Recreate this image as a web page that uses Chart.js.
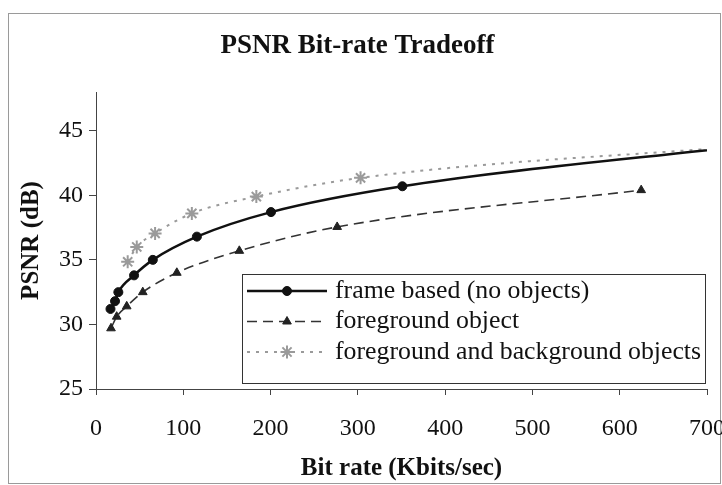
<!DOCTYPE html>
<html>
<head>
<meta charset="utf-8">
<script src="https://cdn.jsdelivr.net/npm/chart.js@4/dist/chart.umd.min.js"></script>
<style>
  html, body { margin: 0; padding: 0; background: #ffffff; }
  #wrap { width: 722px; height: 485px; }
</style>
</head>
<body>
<div id="wrap"><canvas id="c" width="722" height="485"></canvas></div>
<script>
// PSNR versus bit rate for three coding modes
const seriesNames = [
  'frame based (no objects)',
  'foreground object',
  'foreground and background objects'
];

// frame based (no objects)
const frameRate = [16.6, 21.8, 25.6, 43.6, 65.1, 115.6, 200.5, 351, 760];
const framePsnr = [31.2, 31.8, 32.5, 33.8, 35.0, 36.8, 38.7, 40.7, 43.95];

// foreground object
const fgRate = [17.2, 23.7, 35.2, 53.6, 92.6, 164.2, 276.3, 624.6];
const fgPsnr = [29.7, 30.6, 31.4, 32.5, 34.0, 35.7, 37.55, 40.4];

// foreground and background objects
const fgbgRate = [36.3, 46.7, 67.7, 109.8, 183.7, 303.1, 760];
const fgbgPsnr = [34.85, 36.0, 37.05, 38.6, 39.9, 41.35, 43.9];

const xTicks = [0, 100, 200, 300, 400, 500, 600, 700];
const yTicks = [25, 30, 35, 40, 45];

const toPoints = (xs, ys) => xs.map((x, i) => ({ x: x, y: ys[i] }));

const serif = "'Liberation Serif', 'Times New Roman', serif";

// thin frame around the whole figure
const framePlugin = {
  id: 'outerFrame',
  beforeDraw(chart) {
    const ctx = chart.ctx;
    ctx.save();
    ctx.fillStyle = '#ffffff';
    ctx.fillRect(0, 0, chart.width, chart.height);
    ctx.strokeStyle = '#9a9a9a';
    ctx.lineWidth = 1;
    ctx.strokeRect(8.5, 13.5, 712, 470);
    ctx.restore();
  }
};

// boxed legend sitting inside the plot area
const boxLegend = {
  id: 'boxLegend',
  afterDraw(chart) {
    const ctx = chart.ctx;
    const box = { l: 242, t: 274, r: 705, b: 383 };
    const rows = [291, 321.5, 352];
    ctx.save();
    ctx.fillStyle = '#ffffff';
    ctx.fillRect(box.l, box.t, box.r - box.l, box.b - box.t);
    ctx.strokeStyle = '#333333';
    ctx.lineWidth = 1;
    ctx.setLineDash([]);
    ctx.strokeRect(box.l + 0.5, box.t + 0.5, box.r - box.l, box.b - box.t);
    chart.data.datasets.forEach((ds, i) => {
      const y = rows[i];
      ctx.save();
      ctx.strokeStyle = ds.borderColor;
      ctx.lineWidth = ds.borderWidth;
      ctx.setLineDash(ds.borderDash || []);
      ctx.beginPath();
      ctx.moveTo(247, y);
      ctx.lineTo(327, y);
      ctx.stroke();
      ctx.setLineDash([]);
      ctx.fillStyle = ds.pointBackgroundColor;
      ctx.strokeStyle = ds.pointBorderColor;
      ctx.lineWidth = ds.pointBorderWidth;
      Chart.helpers.drawPoint(ctx, {
        pointStyle: ds.pointStyle,
        radius: ds.pointRadius,
        borderWidth: ds.pointBorderWidth,
        rotation: 0
      }, 287, y);
      ctx.restore();
      ctx.fillStyle = '#111111';
      ctx.font = '25.8px ' + serif;
      ctx.textBaseline = 'middle';
      ctx.textAlign = 'left';
      ctx.fillText(ds.label, 335, y);
    });
    ctx.restore();
  }
};

new Chart(document.getElementById('c'), {
  type: 'line',
  data: {
    datasets: [
      {
        label: seriesNames[0],
        data: toPoints(frameRate, framePsnr),
        borderColor: '#111111',
        borderWidth: 2.5,
        pointStyle: 'circle',
        pointRadius: 4.5,
        pointBackgroundColor: '#111111',
        pointBorderColor: '#111111',
        pointBorderWidth: 1,
        cubicInterpolationMode: 'monotone'
      },
      {
        label: seriesNames[1],
        data: toPoints(fgRate, fgPsnr),
        borderColor: '#333333',
        borderWidth: 1.6,
        borderDash: [10, 6],
        pointStyle: 'triangle',
        pointRadius: 5,
        pointBackgroundColor: '#222222',
        pointBorderColor: '#222222',
        pointBorderWidth: 1,
        cubicInterpolationMode: 'monotone'
      },
      {
        label: seriesNames[2],
        data: toPoints(fgbgRate, fgbgPsnr),
        borderColor: '#9a9a9a',
        borderWidth: 2,
        borderDash: [3, 6],
        pointStyle: 'star',
        pointRadius: 6.5,
        pointBackgroundColor: '#9a9a9a',
        pointBorderColor: '#9a9a9a',
        pointBorderWidth: 2,
        cubicInterpolationMode: 'monotone'
      }
    ]
  },
  options: {
    responsive: false,
    animation: false,
    devicePixelRatio: 1,
    layout: { padding: { left: 8, right: 15, top: 0, bottom: 0 } },
    plugins: {
      legend: { display: false },
      tooltip: { enabled: false },
      title: {
        display: true,
        text: 'PSNR Bit-rate Tradeoff',
        color: '#111111',
        font: { family: serif, size: 27, weight: 'bold' },
        padding: { top: 30, bottom: 29.6 }
      }
    },
    scales: {
      x: {
        type: 'linear',
        min: xTicks[0],
        max: xTicks[xTicks.length - 1],
        afterFit(scale) {
          scale.height = 96;
          scale.paddingLeft = 0;
          scale.paddingRight = 0;
        },
        afterBuildTicks(scale) { scale.ticks = xTicks.map(v => ({ value: v })); },
        border: { display: true, color: '#444444', width: 1 },
        grid: { display: true, drawOnChartArea: false, drawTicks: true, tickLength: 6, color: '#444444' },
        ticks: {
          color: '#111111',
          font: { family: serif, size: 24 },
          padding: 19,
          maxRotation: 0
        },
        title: {
          display: true,
          text: 'Bit rate (Kbits/sec)',
          color: '#111111',
          font: { family: serif, size: 25, weight: 'bold' },
          padding: { top: 0, bottom: 1 }
        }
      },
      y: {
        type: 'linear',
        min: 25,
        max: 48,
        afterFit(scale) {
          scale.width = 88;
          scale.paddingTop = 0;
          scale.paddingBottom = 0;
        },
        afterBuildTicks(scale) { scale.ticks = yTicks.map(v => ({ value: v })); },
        border: { display: true, color: '#444444', width: 1 },
        grid: { display: true, drawOnChartArea: false, drawTicks: true, tickLength: 7, color: '#444444' },
        ticks: {
          color: '#111111',
          font: { family: serif, size: 24 },
          padding: 6
        },
        title: {
          display: true,
          text: 'PSNR (dB)',
          color: '#111111',
          font: { family: serif, size: 25, weight: 'bold' },
          padding: { top: 9, bottom: 0 }
        }
      }
    }
  },
  plugins: [framePlugin, boxLegend]
});
</script>
</body>
</html>
